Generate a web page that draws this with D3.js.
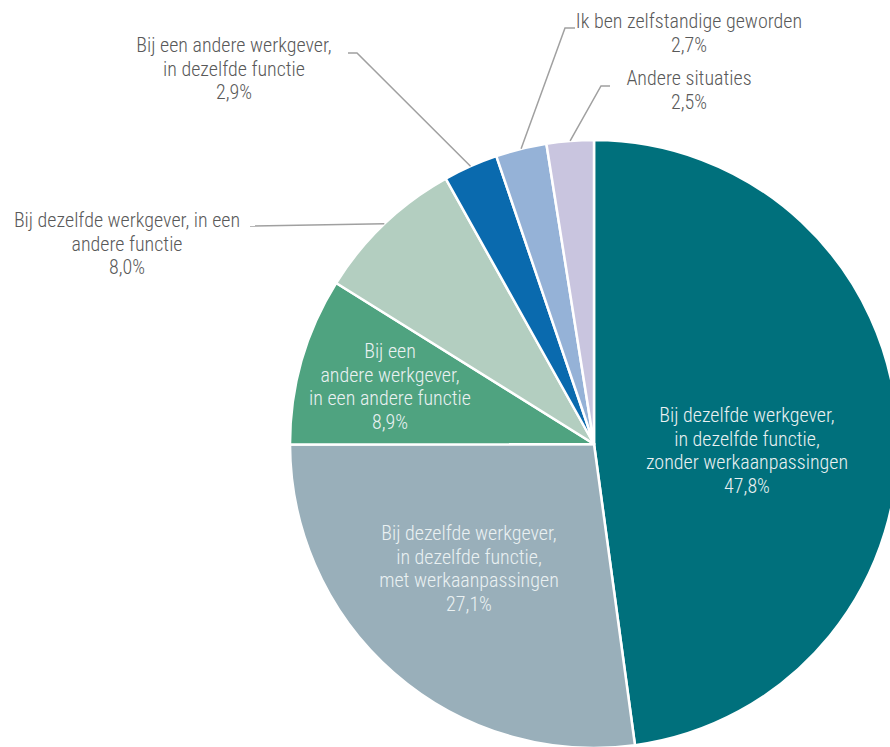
<!DOCTYPE html>
<html>
<head>
<meta charset="utf-8">
<script src="https://cdn.jsdelivr.net/npm/d3@7"></script>
<style>
  html, body { margin: 0; padding: 0; background: #fff; }
  svg { display: block; }
  text { font-family: "Roboto Condensed", "Liberation Sans Narrow", Roboto, sans-serif; font-weight: 300; }
</style>
</head>
<body>
<svg id="chart" width="890" height="747"></svg>
<script>
// Situation after return to work (share of respondents, %)
const categories = [
  "Bij dezelfde werkgever, in dezelfde functie, zonder werkaanpassingen",
  "Bij dezelfde werkgever, in dezelfde functie, met werkaanpassingen",
  "Bij een andere werkgever, in een andere functie",
  "Bij dezelfde werkgever, in een andere functie",
  "Bij een andere werkgever, in dezelfde functie",
  "Ik ben zelfstandige geworden",
  "Andere situaties"
];
const values = [47.8, 27.1, 8.9, 8.0, 2.9, 2.7, 2.5];
const colors = ["#00707c", "#99afba", "#4fa380", "#b3cec0", "#0a6aae", "#95b2d7", "#c9c5df"];

// Label line breaks, per slice
const labelLines = [
  ["Bij dezelfde werkgever,", "in dezelfde functie,", "zonder werkaanpassingen"],
  ["Bij dezelfde werkgever,", "in dezelfde functie,", "met werkaanpassingen"],
  ["Bij een", "andere werkgever,", "in een andere functie"],
  ["Bij dezelfde werkgever, in een", "andere functie"],
  ["Bij een andere werkgever,", "in dezelfde functie"],
  ["Ik ben zelfstandige geworden"],
  ["Andere situaties"]
];

// Label placement: text centre x, first baseline y, inside or outside, leader elbow
const labelLayout = [
  { x: 747, y: 422, inside: true },
  { x: 469, y: 540, inside: true },
  { x: 390, y: 358, inside: true },
  { x: 127, y: 227, inside: false, elbow: [250, 226], end: [250, 226] },
  { x: 234, y: 52,  inside: false, elbow: [357, 53], end: [348, 53] },
  { x: 689, y: 28,  inside: false, elbow: [565, 28], end: [575, 28] },
  { x: 689, y: 85,  inside: false, elbow: [601, 86], end: [610, 86] }
];

const fmt = v => d3.format(".1f")(v).replace(".", ",") + "%";

const svg = d3.select("#chart");
const cx = 594, cy = 444, radius = 304;

const pie = d3.pie().sort(null).value(d => d.value);
const data = values.map((v, i) => ({ value: v, name: categories[i], color: colors[i], lines: labelLines[i], layout: labelLayout[i] }));
const arcs = pie(data);

const arc = d3.arc().innerRadius(0).outerRadius(radius);
const edgeArc = d3.arc().innerRadius(radius).outerRadius(radius);

const g = svg.append("g").attr("transform", `translate(${cx},${cy})`);

g.selectAll("path.slice")
  .data(arcs)
  .join("path")
  .attr("class", "slice")
  .attr("d", arc)
  .attr("fill", d => d.data.color)
  .attr("stroke", "#fff")
  .attr("stroke-width", 2.5)
  .attr("stroke-linejoin", "round");

// Leader lines for the small slices
const outside = arcs.filter(d => !d.data.layout.inside);
svg.selectAll("polyline.leader")
  .data(outside)
  .join("polyline")
  .attr("class", "leader")
  .attr("fill", "none")
  .attr("stroke", "#a0a0a0")
  .attr("stroke-width", 1.5)
  .attr("points", d => {
    const [ex, ey] = edgeArc.centroid(d);
    const L = d.data.layout;
    return [[cx + ex, cy + ey], L.elbow, L.end].map(p => p.join(",")).join(" ");
  });

// Labels
const lineH = 23.5;
const labels = svg.selectAll("text.label")
  .data(arcs)
  .join("text")
  .attr("class", "label")
  .attr("text-anchor", "middle")
  .attr("font-size", 20)
  .attr("fill", d => d.data.layout.inside ? "#eaf1f2" : "#595959")
  .attr("transform", d => `translate(${d.data.layout.x},${d.data.layout.y})`);

labels.selectAll("tspan")
  .data(d => d.data.lines.concat([fmt(d.data.value)]))
  .join("tspan")
  .attr("x", 0)
  .attr("y", (t, i) => i * lineH)
  .text(t => t);
</script>
</body>
</html>
